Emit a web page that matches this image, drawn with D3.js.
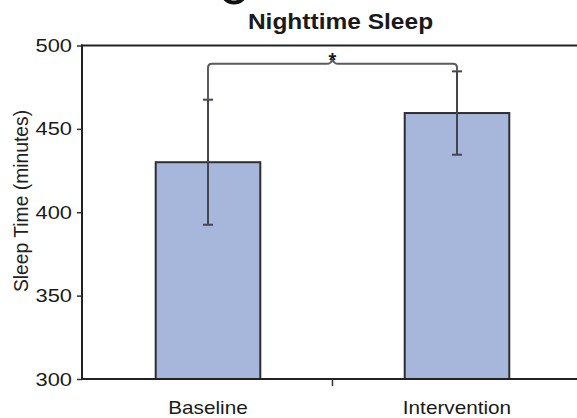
<!DOCTYPE html>
<html>
<head>
<meta charset="utf-8">
<script src="https://cdn.jsdelivr.net/npm/d3@7"></script>
<style>
  html, body { margin: 0; padding: 0; background: #fff; }
  svg { display: block; }
  text { font-family: "Liberation Sans", Arial, Helvetica, sans-serif; fill: #1a1a1a; }
</style>
</head>
<body>
<svg id="chart" width="577" height="418"></svg>
<script>
// Nighttime sleep: mean minutes with error bars, baseline vs intervention
const categories = ["Baseline", "Intervention"];
const means = [430, 459.5];
const errors = [37.5, 25];
const yTicks = [300, 350, 400, 450, 500];
const yDomain = [300, 500];
const bracketValue = 489;        // height of the significance bracket
const significance = "*";
const title = "Nighttime Sleep";
const yLabel = "Sleep Time (minutes)";

const W = 577, H = 418;
const plotLeft = 82, plotTop = 45.5, plotBottom = 379;

const svg = d3.select("#chart");

const x = d3.scaleBand().domain(categories).range([83.5, 581.5]).padding(0);
const y = d3.scaleLinear().domain(yDomain).range([plotBottom, plotTop]);
const barW = x.bandwidth() * 0.42;

// widen text horizontally to the figure's aspect
function stretch(sel, k) {
  sel.each(function () {
    const w = this.getComputedTextLength();
    d3.select(this).attr("textLength", w * k).attr("lengthAdjust", "spacingAndGlyphs");
  });
}

// fragment of the panel letter that sits above the title
svg.append("ellipse")
  .attr("cx", 234).attr("cy", -7).attr("rx", 11).attr("ry", 9.5)
  .attr("fill", "none").attr("stroke", "#111").attr("stroke-width", 4);

// title
svg.append("text")
  .attr("x", 340.5).attr("y", 28.5)
  .attr("text-anchor", "middle")
  .style("font-size", "21.5px").style("font-weight", "bold")
  .text(title)
  .call(stretch, 1.14);

// bars
svg.append("g").selectAll("rect")
  .data(categories)
  .join("rect")
  .attr("x", d => x(d) + x.bandwidth() / 2 - barW / 2)
  .attr("width", barW)
  .attr("y", (d, i) => y(means[i]))
  .attr("height", (d, i) => y(yDomain[0]) - y(means[i]))
  .attr("fill", "#a7b7db")
  .attr("stroke", "#2e2e33")
  .attr("stroke-width", 2);

// error bars
const eb = svg.append("g").attr("stroke", "#45454f").attr("stroke-width", 2);
categories.forEach((c, i) => {
  const cx = x(c) + x.bandwidth() / 2;
  const lo = y(means[i] - errors[i]), hi = y(means[i] + errors[i]);
  eb.append("line").attr("x1", cx).attr("x2", cx).attr("y1", lo).attr("y2", hi);
  eb.append("line").attr("x1", cx - 5).attr("x2", cx + 5).attr("y1", lo).attr("y2", lo);
  eb.append("line").attr("x1", cx - 5).attr("x2", cx + 5).attr("y1", hi).attr("y2", hi);
});

// significance bracket with a brace point in the middle
const x0 = x(categories[0]) + x.bandwidth() / 2;
const x1 = x(categories[1]) + x.bandwidth() / 2;
const yb = y(bracketValue);
const yA = y(means[0] + errors[0]);
const yB = y(means[1] + errors[1]);
const xm = (x0 + x1) / 2;
const r = 4;
const bracket = d3.path();
bracket.moveTo(x0, yA);
bracket.lineTo(x0, yb + r);
bracket.quadraticCurveTo(x0, yb, x0 + r, yb);
bracket.lineTo(xm - 6, yb);
bracket.quadraticCurveTo(xm - 1, yb, xm, yb - 5);
bracket.quadraticCurveTo(xm + 1, yb, xm + 6, yb);
bracket.lineTo(x1 - r, yb);
bracket.quadraticCurveTo(x1, yb, x1, yb + r);
bracket.lineTo(x1, yB);
svg.append("path")
  .attr("d", bracket.toString())
  .attr("fill", "none").attr("stroke", "#5a5a60").attr("stroke-width", 2);

svg.append("text")
  .attr("x", xm).attr("y", yb + 3)
  .attr("text-anchor", "middle")
  .style("font-size", "20px").style("font-weight", "bold")
  .text(significance);

// axes
const yAxis = svg.append("g")
  .attr("transform", `translate(${plotLeft},0)`)
  .call(d3.axisLeft(y).tickValues(yTicks).tickSize(5).tickPadding(5).tickFormat(d3.format("d")));
yAxis.select(".domain").remove();
yAxis.selectAll(".tick line").attr("stroke", "#333").attr("stroke-width", 1.5);
yAxis.selectAll(".tick text")
  .style("font-size", "19px").attr("fill", "#1a1a1a")
  .attr("font-family", null)
  .call(stretch, 1.15);

const frame = svg.append("g").attr("stroke", "#222").attr("stroke-width", 2).attr("fill", "none");
frame.append("line").attr("x1", plotLeft).attr("x2", plotLeft).attr("y1", plotTop - 1).attr("y2", plotBottom + 1);
frame.append("line").attr("x1", plotLeft - 1).attr("x2", W).attr("y1", plotTop).attr("y2", plotTop);
frame.append("line").attr("x1", plotLeft - 1).attr("x2", W).attr("y1", plotBottom).attr("y2", plotBottom);

// divider tick between categories
svg.append("line")
  .attr("x1", x(categories[1])).attr("x2", x(categories[1]))
  .attr("y1", plotBottom).attr("y2", plotBottom + 7)
  .attr("stroke", "#333").attr("stroke-width", 1.5);

// category labels
svg.append("g").selectAll("text")
  .data(categories)
  .join("text")
  .attr("x", d => x(d) + x.bandwidth() / 2)
  .attr("y", 414)
  .attr("text-anchor", "middle")
  .style("font-size", "18.5px")
  .text(d => d)
  .call(stretch, 1.12);

// y-axis title
svg.append("text")
  .attr("transform", `translate(27.5,201) rotate(-90)`)
  .attr("text-anchor", "middle")
  .style("font-size", "19.3px")
  .style("fill", "#222")
  .text(yLabel);
</script>
</body>
</html>
